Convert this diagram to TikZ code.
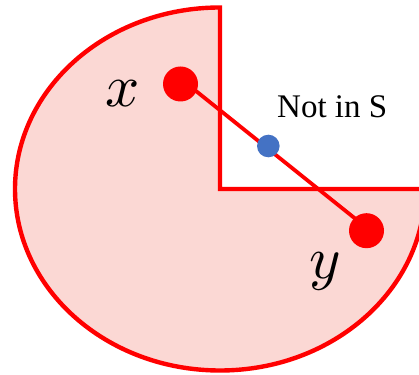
\documentclass[tikz,border=0pt]{standalone}
\usepackage{fontspec}
\usepackage{unicode-math}
\newfontfamily\lblfont{Liberation Serif}
\definecolor{pinkfill}{RGB}{251,216,212}
\definecolor{dotblue}{RGB}{68,114,196}
\begin{document}
\begin{tikzpicture}[x=1pt,y=1pt,
  region/.style={draw=red,line width=4.4pt,fill=pinkfill},
  reddot/.style={circle,fill=red,inner sep=0pt,minimum size=35pt},
  bluedot/.style={circle,fill=dotblue,inner sep=0pt,minimum size=22.6pt},
  segline/.style={draw=red,line width=3.8pt},
  mathlbl/.style={inner sep=0pt,anchor=base,font=\fontsize{60}{60}\selectfont},
  textlbl/.style={inner sep=0pt,anchor=base west,font=\lblfont\fontsize{33}{33}\selectfont}]
\useasboundingbox (0,0) rectangle (419,374);
\clip (0,0) rectangle (419,374);
\draw[region] (220,185) -- (220,366.5)
  arc[start angle=90,end angle=360,x radius=205,y radius=181.5] -- cycle;
\node[reddot] (xd) at (180.5,290) {};
\node[reddot] (yd) at (366.5,143.3) {};
\draw[segline] ([yshift=5.4pt]xd.center) -- ([yshift=3pt]yd.center);
\node[bluedot] (nd) at (268.3,228) {};
\node[mathlbl] (lx) at (123,267) {$x$};
\node[mathlbl] (ly) at (325,95) {$y$};
\node[textlbl] (ns) at (277,256.7) {Not in S};
\end{tikzpicture}
\end{document}
